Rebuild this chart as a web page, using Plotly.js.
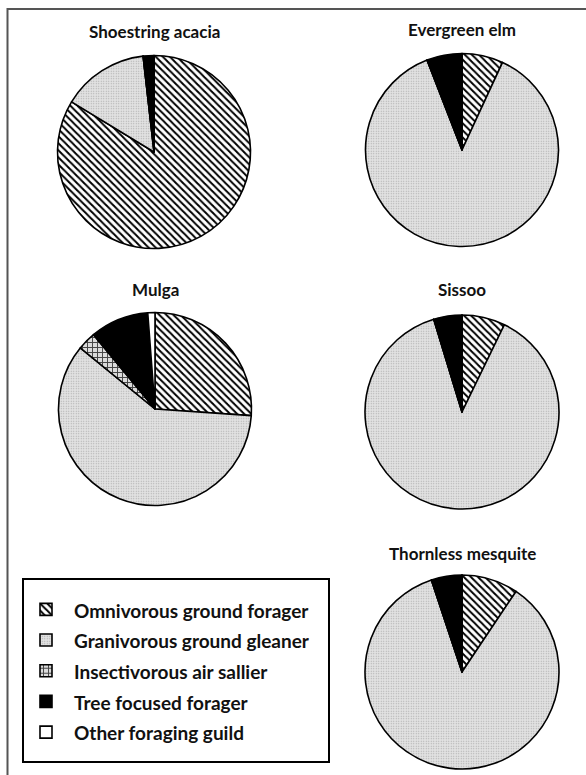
<!DOCTYPE html>
<html>
<head>
<meta charset="utf-8">
<script src="https://cdn.plot.ly/plotly-3.0.1.min.js"></script>
<style>html,body{margin:0;padding:0;background:#fff;}#chart{width:586px;height:775px;}</style>
</head>
<body>
<div id="chart"></div>
<script>
// ---- data ----
const guilds = ["Omnivorous ground forager", "Granivorous ground gleaner", "Insectivorous air sallier", "Tree focused forager", "Other foraging guild"];
const treeNames = ["Shoestring acacia", "Evergreen elm", "Mulga", "Sissoo", "Thornless mesquite"];
const shoestringAcacia = [83.7, 14.5, 0, 1.8, 0];
const evergreenElm = [6.9, 87.2, 0, 5.9, 0];
const mulga = [26.1, 59.8, 3.1, 9.8, 1.2];
const sissoo = [7.2, 88.1, 0, 4.7, 0];
const thornlessMesquite = [9.4, 85.5, 0, 5.1, 0];
const seriesValues = [shoestringAcacia, evergreenElm, mulga, sissoo, thornlessMesquite];

// ---- layout helpers ----
const W = 586, H = 775;
const px = x => x / W;
const py = y => 1 - y / H;
function dom(cx, cy, r) {
  return {x: [px(cx - r), px(cx + r)], y: [py(cy + r), py(cy - r)]};
}
const pieGeom = [
  {cx: 154, cy: 152, r: 96.5, ty: 31},
  {cx: 462, cy: 150, r: 96.5, ty: 30},
  {cx: 155, cy: 409, r: 96.5, ty: 289},
  {cx: 462, cy: 412, r: 97, ty: 289},
  {cx: 462, cy: 672, r: 97, ty: 553}
];

const legendLabels = guilds.map(g => '<span style="font-size:19px">' + g + '</span>');

const marker = {
  colors: ['#ffffff', '#dcdcdc', '#d6d6d6', '#000000', '#ffffff'],
  line: {color: '#000', width: 1.6},
  pattern: {
    shape: ['\\', '.', '+', '', ''],
    fgcolor: ['#000000', '#a8a8a8', '#444444', '#000000', '#000000'],
    bgcolor: ['#ffffff', '#e2e2e2', '#dcdcdc', '#000000', '#ffffff'],
    size: [5, 2.5, 5, 8, 8],
    solidity: [0.4, 0.2, 0.35, 0.3, 0.3],
    fillmode: 'replace'
  }
};

const traces = seriesValues.map((vals, i) => ({
  type: 'pie',
  labels: legendLabels,
  values: vals,
  sort: false,
  direction: 'clockwise',
  rotation: 0,
  textinfo: 'none',
  hoverinfo: 'label+percent',
  marker: marker,
  domain: dom(pieGeom[i].cx, pieGeom[i].cy, pieGeom[i].r),
  showlegend: i === 2
}));

const annotations = treeNames.map((t, i) => ({
  text: '<b>' + t + '</b>',
  xref: 'paper', yref: 'paper',
  x: px(pieGeom[i].cx), y: py(pieGeom[i].ty),
  xanchor: 'center', yanchor: 'middle',
  showarrow: false,
  font: {family: 'Lato, "Open Sans", sans-serif', size: 17, color: '#111'}
}));

const layout = {
  width: W, height: H,
  margin: {l: 0, r: 0, t: 0, b: 0},
  paper_bgcolor: '#fff',
  plot_bgcolor: '#fff',
  showlegend: true,
  legend: {
    x: px(18), y: py(589), xanchor: 'left', yanchor: 'top',
    bgcolor: 'rgba(0,0,0,0)', borderwidth: 0,
    font: {family: 'Lato, "Open Sans", sans-serif', size: 21.3, color: '#111', weight: 'bold'},
    itemwidth: 46,
    traceorder: 'normal',
    itemclick: false, itemdoubleclick: false
  },
  annotations: annotations,
  shapes: [
    {type: 'rect', xref: 'paper', yref: 'paper', x0: px(7.5), y0: py(9), x1: 1.05, y1: -0.05, line: {color: '#555', width: 2}},
    {type: 'rect', xref: 'paper', yref: 'paper', x0: px(23), y0: py(579), x1: px(329), y1: py(762), line: {color: '#000', width: 2}}
  ]
};

Plotly.newPlot('chart', traces, layout, {displayModeBar: false, staticPlot: true});
</script>
</body>
</html>
